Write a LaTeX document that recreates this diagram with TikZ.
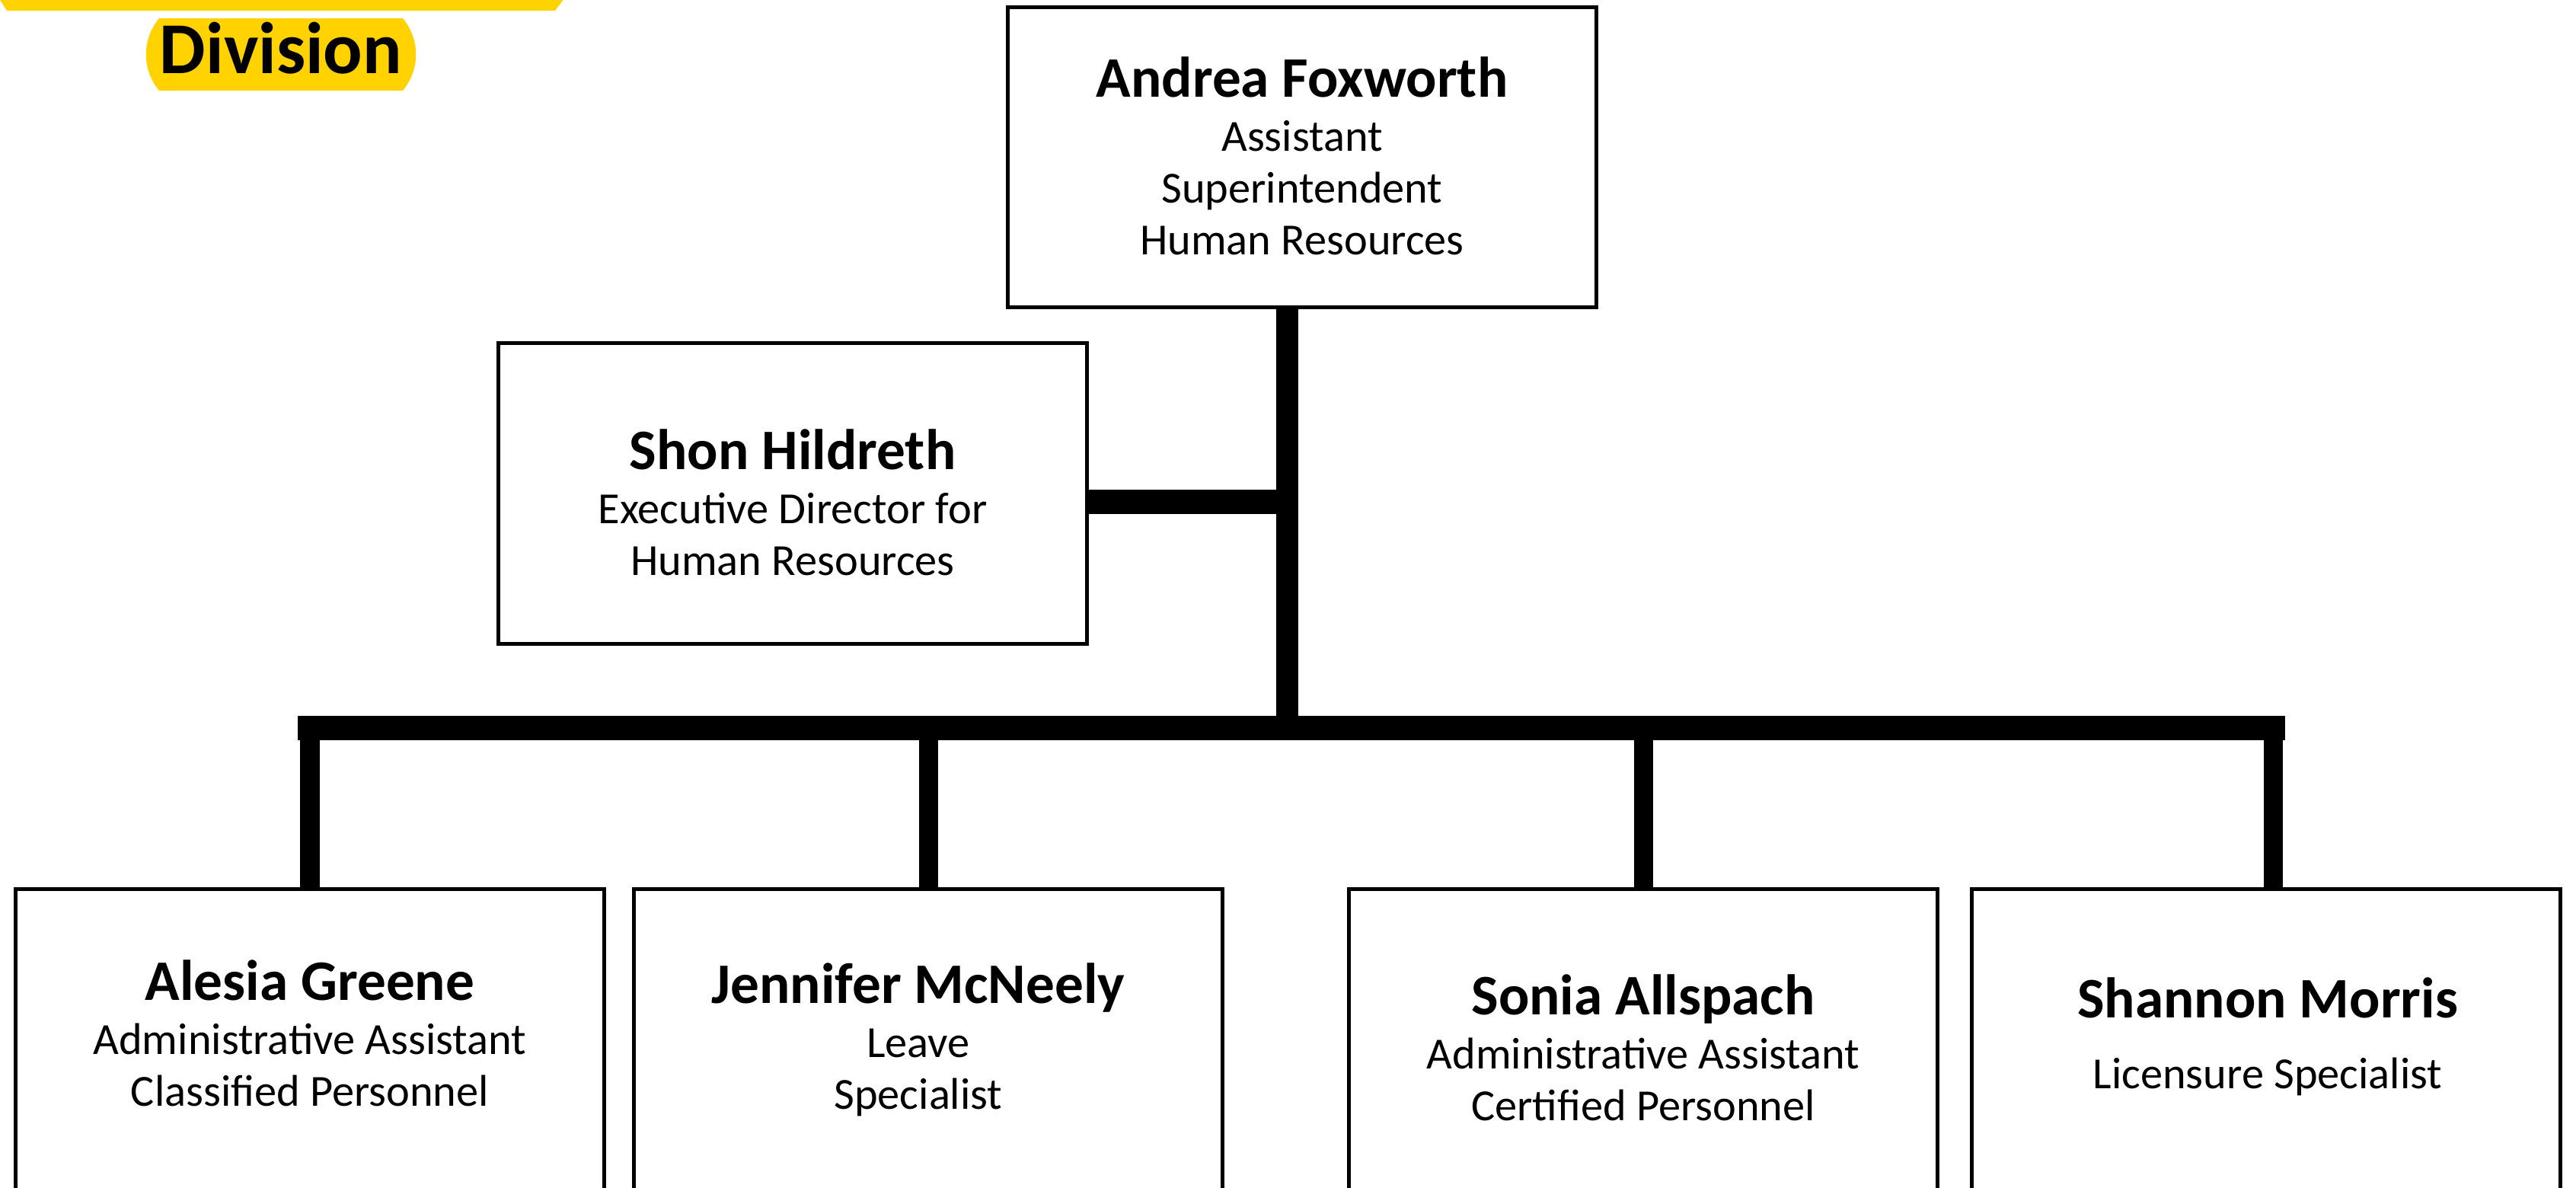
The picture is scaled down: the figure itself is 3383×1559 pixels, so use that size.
\documentclass[tikz,border=0pt]{standalone}
\usepackage{fontspec}
\setmainfont{Carlito}
\usepackage{tikz}
\definecolor{divyellow}{RGB}{255, 210, 0}
\newcommand{\namefont}{\fontsize{21.4}{24}\selectfont\bfseries}
\tikzset{
 orgbox/.style={
 rectangle,
 draw=black,
 line width=0.05cm,
 minimum width=7.73cm,
 minimum height=3.94cm,
 inner sep=0pt,
 outer sep=0pt
 },
 orgtext/.style={
 align=center,
 inner sep=0pt,
 font=\fontsize{16.6}{19.35}\selectfont
 },
 badge/.style={
 inner sep=0pt,
 font=\fontsize{27.3}{30}\selectfont\bfseries
 },
 trunkline/.style={line width=0.29cm},
 armline/.style={line width=0.32cm},
 busline/.style={line width=0.32cm, line cap=rect},
 dropline/.style={line width=0.25cm}
}

\begin{document}
\begin{tikzpicture}[x=0.01cm, y=-0.01cm]
 \useasboundingbox (0,0) rectangle (3383,1559);
 \clip (0,0) rectangle (3383,1559);
 % division banner
 \fill[divyellow] (-3,-5) -- (743,-5) -- (729,14) -- (9,14) -- cycle;
 \fill[divyellow] (209,24) -- (529,24) .. controls (552,52) and (552,91) .. (529,119)
 -- (209,119) .. controls (186,91) and (186,52) .. (209,24) -- cycle;
 \node[badge, anchor=base] (division) at (369,96) {Division};
 % boxes
 \node[orgbox] (foxworth) at (1710,206.5) {};
 \node[orgtext] (foxworth text) at (1710,205) {{\namefont Andrea Foxworth}\\[0.03cm] Assistant\\ Superintendent\\ Human Resources};
 \node[orgbox] (hildreth) at (1041,648) {};
 \node[orgtext] (hildreth text) at (1041,660) {{\namefont Shon Hildreth}\\[0.03cm] Executive Director for\\ Human Resources};
 \node[orgbox] (greene) at (407,1365) {};
 \node[orgtext] (greene text) at (407,1357) {{\namefont Alesia Greene}\\[0.03cm] Administrative Assistant\\ Classified Personnel};
 \node[orgbox] (mcneely) at (1219,1365) {};
 \node[orgtext] (mcneely text) at (1206,1365) {{\namefont Jennifer McNeely}\\[0.03cm] Leave\\ Specialist};
 \node[orgbox] (allspach) at (2158,1365) {};
 \node[orgtext] (allspach text) at (2158,1376) {{\namefont Sonia Allspach}\\[0.03cm] Administrative Assistant\\ Certified Personnel};
 \node[orgbox] (morris) at (2976,1365) {};
 \node[orgtext] (morris text) at (2978,1361) {{\namefont Shannon Morris}\\[0.25cm] Licensure Specialist};
 % connectors
 \coordinate (bus) at (1690,956);
 \coordinate (armjoin) at ([yshift=-0.105cm]hildreth.east);
 \coordinate (morrisdrop) at ([xshift=0.09cm]morris.north);
 \draw[trunkline] (foxworth.south -| bus) -- (bus);
 \draw[armline] (armjoin) -- (armjoin -| bus);
 \draw[busline] (greene.north |- bus) -- (morrisdrop |- bus);
 \foreach \p in {greene.north,mcneely.north,allspach.north,morrisdrop}
 \draw[dropline] (\p |- bus) -- (\p);
\end{tikzpicture}
\end{document}
